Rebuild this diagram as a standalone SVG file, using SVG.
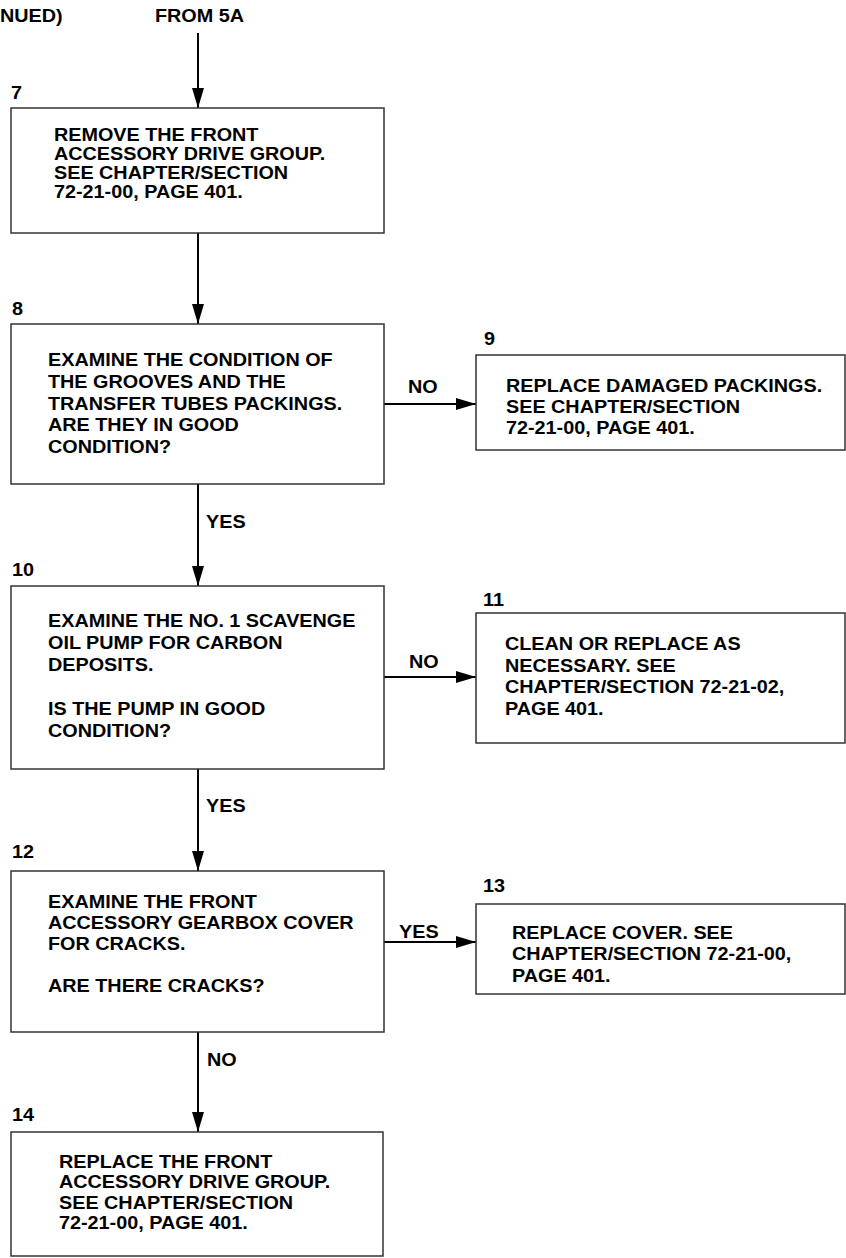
<svg xmlns="http://www.w3.org/2000/svg" width="846" height="1258" viewBox="0 0 846 1258">
  <style>
    .box { fill: #ffffff; stroke: #333333; stroke-width: 1.5; }
    .conn { fill: none; stroke: #000000; stroke-width: 2; }
    .t { font-family: "Liberation Sans", Arial, sans-serif; font-weight: bold; font-size: 18px; fill: #000000; }
  </style>
  <defs>
    <marker id="arrow" viewBox="0 0 20 12" refX="20" refY="6" markerWidth="20" markerHeight="12" markerUnits="userSpaceOnUse" orient="auto">
      <path d="M0,0 L20,6 L0,12 Z" fill="#000000"/>
    </marker>
  </defs>
  <rect width="846" height="1258" fill="#ffffff"/>

  <!-- header -->
  <g id="header">
    <text class="t" transform="translate(0,22) scale(1.1,1)">NUED)</text>
    <text class="t" transform="translate(155,22) scale(1.1,1)">FROM 5A</text>
  </g>

  <!-- connectors -->
  <g id="connectors">
    <line class="conn" x1="198" y1="33" x2="198" y2="108" marker-end="url(#arrow)"/>
    <line class="conn" x1="198" y1="233" x2="198" y2="324" marker-end="url(#arrow)"/>
    <line class="conn" x1="384" y1="404" x2="476" y2="404" marker-end="url(#arrow)"/>
    <line class="conn" x1="198" y1="484" x2="198" y2="586" marker-end="url(#arrow)"/>
    <line class="conn" x1="384" y1="677" x2="476" y2="677" marker-end="url(#arrow)"/>
    <line class="conn" x1="198" y1="769" x2="198" y2="871" marker-end="url(#arrow)"/>
    <line class="conn" x1="384" y1="942" x2="476" y2="942" marker-end="url(#arrow)"/>
    <line class="conn" x1="198" y1="1032" x2="198" y2="1132" marker-end="url(#arrow)"/>
    <text class="t" transform="translate(408,393) scale(1.1,1)">NO</text>
    <text class="t" transform="translate(206,528) scale(1.1,1)">YES</text>
    <text class="t" transform="translate(409,668) scale(1.1,1)">NO</text>
    <text class="t" transform="translate(206,812) scale(1.1,1)">YES</text>
    <text class="t" transform="translate(399,938) scale(1.1,1)">YES</text>
    <text class="t" transform="translate(207,1066) scale(1.1,1)">NO</text>
  </g>

  <!-- step 7 -->
  <g id="step7">
    <text class="t" transform="translate(11,99) scale(1.1,1)">7</text>
    <rect class="box" x="11" y="108" width="373" height="125"/>
    <g transform="translate(54,141) scale(1.1,1)">
      <text class="t" x="0" y="0">REMOVE THE FRONT</text>
      <text class="t" x="0" y="19">ACCESSORY DRIVE GROUP.</text>
      <text class="t" x="0" y="38">SEE CHAPTER/SECTION</text>
      <text class="t" x="0" y="57">72-21-00, PAGE 401.</text>
    </g>
  </g>

  <!-- step 8 -->
  <g id="step8">
    <text class="t" transform="translate(12,315) scale(1.1,1)">8</text>
    <rect class="box" x="11" y="324" width="373" height="160"/>
    <g transform="translate(48,366) scale(1.1,1)">
      <text class="t" x="0" y="0">EXAMINE THE CONDITION OF</text>
      <text class="t" x="0" y="21.8">THE GROOVES AND THE</text>
      <text class="t" x="0" y="43.6">TRANSFER TUBES PACKINGS.</text>
      <text class="t" x="0" y="65.4">ARE THEY IN GOOD</text>
      <text class="t" x="0" y="87.2">CONDITION?</text>
    </g>
  </g>

  <!-- step 9 -->
  <g id="step9">
    <text class="t" transform="translate(484,345) scale(1.1,1)">9</text>
    <rect class="box" x="476" y="355" width="369" height="95"/>
    <g transform="translate(506,392) scale(1.1,1)">
      <text class="t" x="0" y="0">REPLACE DAMAGED PACKINGS.</text>
      <text class="t" x="0" y="21">SEE CHAPTER/SECTION</text>
      <text class="t" x="0" y="42">72-21-00, PAGE 401.</text>
    </g>
  </g>

  <!-- step 10 -->
  <g id="step10">
    <text class="t" transform="translate(12,576) scale(1.1,1)">10</text>
    <rect class="box" x="11" y="586" width="373" height="183"/>
    <g transform="translate(48,627) scale(1.1,1)">
      <text class="t" x="0" y="0">EXAMINE THE NO. 1 SCAVENGE</text>
      <text class="t" x="0" y="22">OIL PUMP FOR CARBON</text>
      <text class="t" x="0" y="44">DEPOSITS.</text>
      <text class="t" x="0" y="88">IS THE PUMP IN GOOD</text>
      <text class="t" x="0" y="110">CONDITION?</text>
    </g>
  </g>

  <!-- step 11 -->
  <g id="step11">
    <text class="t" transform="translate(483,606) scale(1.1,1)">11</text>
    <rect class="box" x="476" y="613" width="369" height="130"/>
    <g transform="translate(505,650) scale(1.1,1)">
      <text class="t" x="0" y="0">CLEAN OR REPLACE AS</text>
      <text class="t" x="0" y="21.7">NECESSARY. SEE</text>
      <text class="t" x="0" y="43.4">CHAPTER/SECTION 72-21-02,</text>
      <text class="t" x="0" y="65.1">PAGE 401.</text>
    </g>
  </g>

  <!-- step 12 -->
  <g id="step12">
    <text class="t" transform="translate(12,858) scale(1.1,1)">12</text>
    <rect class="box" x="11" y="871" width="373" height="161"/>
    <g transform="translate(48,908) scale(1.1,1)">
      <text class="t" x="0" y="0">EXAMINE THE FRONT</text>
      <text class="t" x="0" y="21">ACCESSORY GEARBOX COVER</text>
      <text class="t" x="0" y="42">FOR CRACKS.</text>
      <text class="t" x="0" y="84">ARE THERE CRACKS?</text>
    </g>
  </g>

  <!-- step 13 -->
  <g id="step13">
    <text class="t" transform="translate(483,892) scale(1.1,1)">13</text>
    <rect class="box" x="476" y="904" width="369" height="90"/>
    <g transform="translate(512,939) scale(1.1,1)">
      <text class="t" x="0" y="0">REPLACE COVER. SEE</text>
      <text class="t" x="0" y="21.5">CHAPTER/SECTION 72-21-00,</text>
      <text class="t" x="0" y="43">PAGE 401.</text>
    </g>
  </g>

  <!-- step 14 -->
  <g id="step14">
    <text class="t" transform="translate(12,1121) scale(1.1,1)">14</text>
    <rect class="box" x="11" y="1132" width="372" height="124"/>
    <g transform="translate(59,1168) scale(1.1,1)">
      <text class="t" x="0" y="0">REPLACE THE FRONT</text>
      <text class="t" x="0" y="20.5">ACCESSORY DRIVE GROUP.</text>
      <text class="t" x="0" y="41">SEE CHAPTER/SECTION</text>
      <text class="t" x="0" y="61.5">72-21-00, PAGE 401.</text>
    </g>
  </g>
</svg>
